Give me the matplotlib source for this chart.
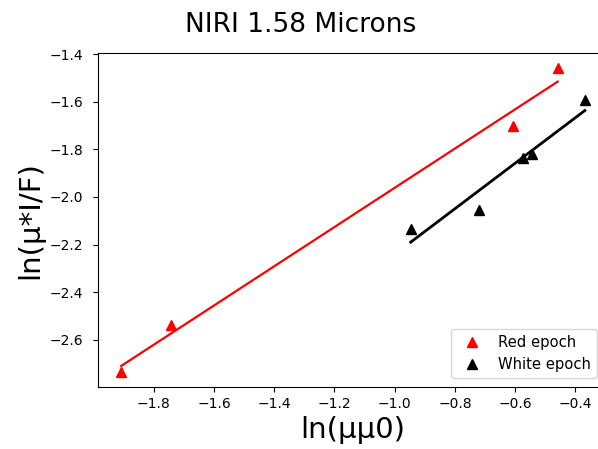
import numpy as np
import matplotlib
matplotlib.use("Agg")
import matplotlib.pyplot as plt

# ln(mu mu0) vs ln(mu*I/F)
red_x = [-1.908, -1.741, -0.606, -0.459]
red_y = [-2.735, -2.537, -1.704, -1.459]
white_x = [-0.947, -0.719, -0.574, -0.545, -0.369]
white_y = [-2.135, -2.053, -1.838, -1.820, -1.592]

fig = plt.figure(figsize=(5.98, 4.49), dpi=100)
# axes runs past the right edge, as in the cropped original
ax = fig.add_axes([98 / 598, 62 / 449, 510 / 598, 334 / 449])

ax.plot(red_x, red_y, "^", color="red", markersize=6.5, label="Red epoch")
ax.plot(white_x, white_y, "^", color="black", markersize=6.5, label="White epoch")

# linear fits
rx = np.array(red_x)
wx = np.array(white_x)
pr = np.polyfit(rx, red_y, 1)
pw = np.polyfit(wx, white_y, 1)
ax.plot(rx, np.polyval(pr, rx), color="red", lw=1.6)
ax.plot(wx, np.polyval(pw, wx), color="black", lw=2)

ax.set_xticks([-1.8, -1.6, -1.4, -1.2, -1.0, -0.8, -0.6, -0.4])
ax.set_yticks([-2.6, -2.4, -2.2, -2.0, -1.8, -1.6, -1.4])
ax.tick_params(labelsize=10)
ax.tick_params(axis="y", pad=7)

ax.set_xlabel("ln(μμ0)", fontsize=21)
ax.set_ylabel("ln(μ*I/F)", fontsize=21)
fig.text(301 / 598, 1 - 32 / 449, "NIRI 1.58 Microns", fontsize=19,
         ha="center", va="baseline")

ax.legend(loc="lower left", fontsize=10.6,
          bbox_to_anchor=(451 / 598, 1 - 378 / 449), bbox_transform=fig.transFigure,
          borderaxespad=0)

fig.savefig("out.png", dpi=100)
